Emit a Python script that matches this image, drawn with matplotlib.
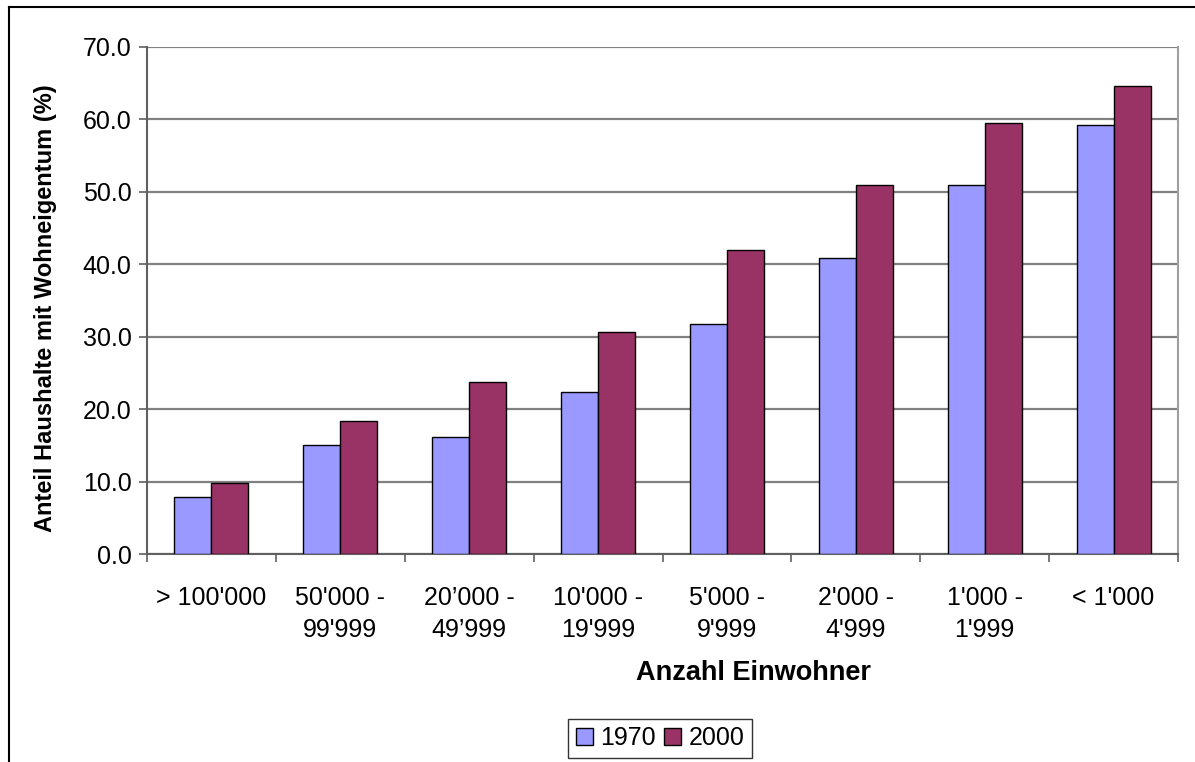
import matplotlib
matplotlib.use("Agg")
import matplotlib.pyplot as plt
from matplotlib.lines import Line2D
import numpy as np

plt.rcParams['font.family'] = ['Liberation Sans', 'DejaVu Sans']

categories = ["> 100'000", "50'000 -\n99'999", "20\u2019000 -\n49\u2019999", "10'000 -\n19'999",
              "5'000 -\n9'999", "2'000 -\n4'999", "1'000 -\n1'999", "< 1'000"]
share_1970 = [7.9, 15.1, 16.2, 22.4, 31.8, 40.9, 50.9, 59.2]
share_2000 = [9.8, 18.3, 23.7, 30.7, 42.0, 50.9, 59.5, 64.6]
series_labels = ["1970", "2000"]
y_ticks = [0, 10, 20, 30, 40, 50, 60, 70]

W, H = 1195, 762
fig = plt.figure(figsize=(W / 100, H / 100), dpi=100)
ax = fig.add_axes([147 / W, 1 - 554 / H, (1178 - 147) / W, (554 - 47) / H])

x = np.arange(len(categories))
bw = 0.287
ax.bar(x - bw / 2, share_1970, bw, color="#9999FF", edgecolor="black", linewidth=1.0,
       label=series_labels[0], zorder=3)
ax.bar(x + bw / 2, share_2000, bw, color="#993366", edgecolor="black", linewidth=1.0,
       label=series_labels[1], zorder=3)

ax.set_xlim(-0.5, len(categories) - 0.5)
ax.set_ylim(0, 70)
ax.set_yticks(y_ticks)
ax.set_yticklabels([f"{v:.1f}" for v in y_ticks], fontsize=18)
ax.yaxis.grid(True, color="#808080", linewidth=1.6, zorder=0)

# category ticks sit between the groups, labels centred on the groups
ax.set_xticks(np.arange(-0.5, len(categories) + 0.5, 1.0))
ax.set_xticklabels([])
ax.set_xticks(x, minor=True)
ax.set_xticklabels(categories, minor=True, fontsize=18, linespacing=1.45)
ax.tick_params(axis="x", which="minor", length=0, pad=23)
ax.tick_params(axis="x", which="major", length=6, width=1.2, color="#606060")
ax.tick_params(axis="y", length=6, width=1.2, color="#606060", pad=5)

for side in ["left", "bottom"]:
    ax.spines[side].set_color("#606060")
    ax.spines[side].set_linewidth(1.5)
ax.spines["right"].set_color("#a0a0a0")
ax.spines["right"].set_linewidth(1.5)
ax.spines["top"].set_visible(False)

fig.text(46 / W, 1 - 308 / H, "Anteil Haushalte mit Wohneigentum (%)", rotation=90,
         ha="center", va="center", fontsize=17, fontweight="bold")
fig.text(754 / W, 1 - 673 / H, "Anzahl Einwohner", ha="center", va="center",
         fontsize=19.5, fontweight="bold")

leg = fig.legend(loc="center", bbox_to_anchor=(660 / W, 1 - 738 / H), ncol=2, fontsize=18,
                 frameon=True, fancybox=False, edgecolor="black", handlelength=0.7,
                 handleheight=0.7, handletextpad=0.3, columnspacing=0.3, borderpad=0.3,
                 borderaxespad=0)
leg.get_frame().set_linewidth(1.0)

# outer chart border (top and left edges visible)
fig.add_artist(Line2D([8.5 / W, 1.0], [1 - 6.5 / H, 1 - 6.5 / H], color="black",
                      linewidth=1.5, transform=fig.transFigure))
fig.add_artist(Line2D([8.5 / W, 8.5 / W], [0, 1 - 6.5 / H], color="black",
                      linewidth=1.5, transform=fig.transFigure))

fig.savefig("out.png", dpi=100)
